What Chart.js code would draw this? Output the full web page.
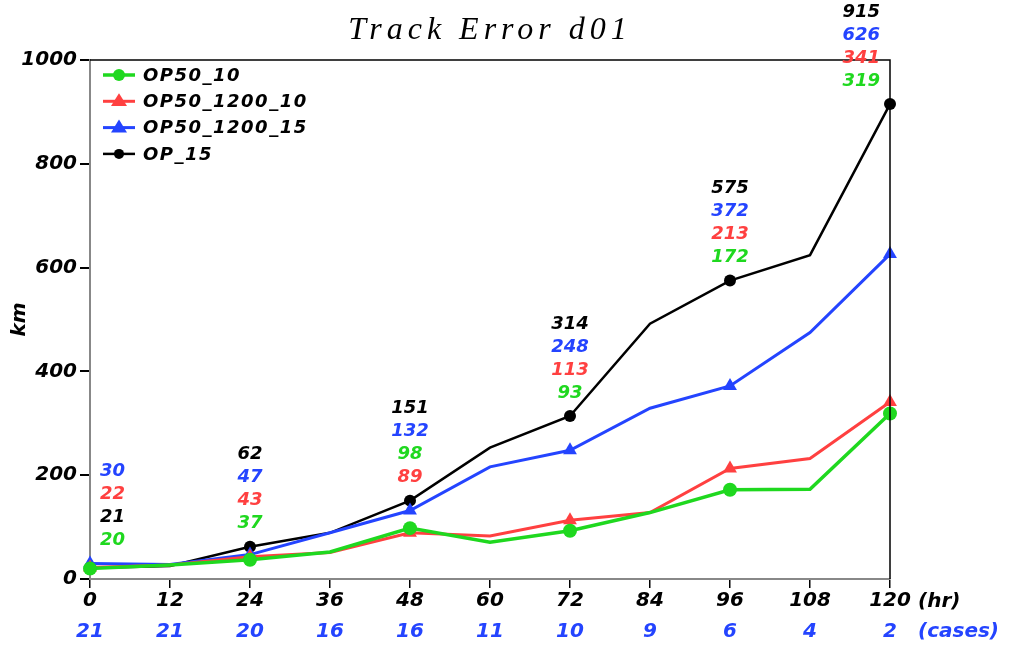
<!DOCTYPE html>
<html>
<head>
<meta charset="utf-8">
<script src="https://cdn.jsdelivr.net/npm/chart.js@4"></script>
<style>
  html, body { margin: 0; padding: 0; background: #fff; }
  #wrap { width: 1012px; height: 649px; }
</style>
</head>
<body>
<div id="wrap"><canvas id="myChart" width="1012" height="649"></canvas></div>
<script>
// du lieu doc tu hinh
var hours = [0, 12, 24, 36, 48, 60, 72, 84, 96, 108, 120];
var cases = [21, 21, 20, 16, 16, 11, 10, 9, 6, 4, 2];
var seriesNames = ['OP50_10', 'OP50_1200_10', 'OP50_1200_15', 'OP_15'];
var op50_10 = [20, 27, 37, 52, 98, 71, 93, 128, 172, 173, 319];
var op50_1200_10 = [22, 27, 43, 51, 89, 83, 113, 128, 213, 232, 341];
var op50_1200_15 = [30, 28, 47, 89, 132, 216, 248, 329, 372, 475, 626];
var op_15 = [21, 25, 62, 89, 151, 253, 314, 492, 575, 624, 915];
var yTicks = [0, 200, 400, 600, 800, 1000];

var colors = ['#1fd81f', '#ff4040', '#2444ff', '#000000'];
var markers = ['circle', 'triangle', 'triangle', 'circle'];
var markerSize = [7, 8, 8, 6];
var lineW = [3.5, 3, 3, 2.5];
var FONT = '"DejaVu Sans"';

document.addEventListener("DOMContentLoaded", function () {
  var values = [op50_10, op50_1200_10, op50_1200_15, op_15];
  var datasets = values.map(function (arr, i) {
    return {
      label: seriesNames[i],
      data: arr.map(function (v, j) { return { x: hours[j], y: v }; }),
      borderColor: colors[i],
      backgroundColor: colors[i],
      borderWidth: lineW[i],
      pointStyle: markers[i],
      pointRadius: hours.map(function (h, j) { return j % 2 === 0 ? markerSize[i] : 0; }),
      pointBorderWidth: 0,
      tension: 0,
      fill: false,
      clip: false
    };
  });
  renderDoThi(datasets);
});

var frameAndText = {
  id: 'frameAndText',
  afterDraw: function (chart) {
    var ctx = chart.ctx;
    var a = chart.chartArea;
    var xs = chart.scales.x, ys = chart.scales.y;
    ctx.save();
    // khung tren + phai
    ctx.strokeStyle = '#000';
    ctx.lineWidth = 1.5;
    ctx.beginPath();
    ctx.moveTo(a.left, a.top);
    ctx.lineTo(a.right, a.top);
    ctx.lineTo(a.right, a.bottom);
    ctx.stroke();

    // tieu de
    ctx.fillStyle = '#000';
    ctx.font = 'italic 32px "Liberation Serif"';
    ctx.letterSpacing = '5px';
    ctx.textAlign = 'center';
    ctx.textBaseline = 'middle';
    ctx.fillText('Track Error d01', (a.left + a.right) / 2, a.top - 29);
    ctx.letterSpacing = '0px';

    // km
    ctx.save();
    ctx.translate(a.left - 70, (a.top + a.bottom) / 2);
    ctx.rotate(-Math.PI / 2);
    ctx.font = 'bold oblique 20px ' + FONT;
    ctx.fillText('km', 0, 0);
    ctx.restore();

    // so truong hop
    ctx.font = 'bold oblique 20px ' + FONT;
    ctx.fillStyle = '#2444ff';
    hours.forEach(function (h, j) {
      ctx.fillText(String(cases[j]), xs.getPixelForValue(h), a.bottom + 53);
    });
    ctx.textAlign = 'left';
    ctx.fillText('(cases)', a.right + 28, a.bottom + 53);
    ctx.fillStyle = '#000';
    ctx.fillText('(hr)', a.right + 28, a.bottom + 23);

    // nhan gia tri
    ctx.font = 'bold oblique 18px ' + FONT;
    hours.forEach(function (h, j) {
      if (j % 2 !== 0) return;
      var items = chart.data.datasets.map(function (d) {
        return { v: d.data[j].y, c: d.borderColor };
      });
      items.sort(function (p, q) { return q.v - p.v; });
      var base = ys.getPixelForValue(items[0].v) - 23;
      var x = xs.getPixelForValue(h);
      if (j === 0) { ctx.textAlign = 'left'; x += 10; }
      else if (j === hours.length - 1) { ctx.textAlign = 'right'; x -= 10; }
      else { ctx.textAlign = 'center'; }
      items.forEach(function (it, k) {
        ctx.fillStyle = it.c;
        ctx.fillText(String(it.v), x, base - (items.length - 1 - k) * 23);
      });
    });

    // chu thich
    ctx.font = 'bold oblique 18px ' + FONT;
    ctx.letterSpacing = '1.5px';
    ctx.textAlign = 'left';
    chart.data.datasets.forEach(function (d, i) {
      var y = a.top + 15 + i * 26.3;
      var x0 = a.left + 13;
      ctx.strokeStyle = d.borderColor;
      ctx.lineWidth = d.borderWidth;
      ctx.beginPath();
      ctx.moveTo(x0, y);
      ctx.lineTo(x0 + 32, y);
      ctx.stroke();
      ctx.fillStyle = d.borderColor;
      ctx.beginPath();
      if (markers[i] === 'circle') {
        ctx.arc(x0 + 16, y, markerSize[i] - 1, 0, Math.PI * 2);
      } else {
        var r = markerSize[i];
        ctx.moveTo(x0 + 16, y - r);
        ctx.lineTo(x0 + 16 + r, y + r * 0.6);
        ctx.lineTo(x0 + 16 - r, y + r * 0.6);
        ctx.closePath();
      }
      ctx.fill();
      ctx.fillStyle = '#000';
      ctx.fillText(d.label, x0 + 40, y + 1);
    });
    ctx.restore();
  }
};

function renderDoThi(datasets) {
  var ctx = document.getElementById('myChart').getContext('2d');
  var myChart = new Chart(ctx, {
    type: 'line',
    data: { datasets: datasets },
    options: {
      responsive: false,
      animation: false,
      layout: { padding: { top: 60, right: 122, left: 0, bottom: 0 } },
      plugins: {
        legend: { display: false },
        tooltip: { enabled: false },
        title: { display: false }
      },
      scales: {
        x: {
          type: 'linear',
          min: 0,
          max: 120,
          afterBuildTicks: function (s) { s.ticks = hours.map(function (h) { return { value: h }; }); },
          afterFit: function (s) { s.height = 70; },
          ticks: {
            color: '#000',
            font: { family: 'DejaVu Sans', size: 20, weight: 'bold', style: 'oblique' },
            padding: 1,
            maxRotation: 0,
            callback: function (v) { return String(v); }
          },
          grid: { drawOnChartArea: false, tickLength: 9, color: '#000', lineWidth: 1.5 },
          border: { color: '#888', width: 2 }
        },
        y: {
          min: 0,
          max: 1000,
          afterBuildTicks: function (s) { s.ticks = yTicks.map(function (v) { return { value: v }; }); },
          afterFit: function (s) { s.width = 90; },
          ticks: {
            color: '#000',
            font: { family: 'DejaVu Sans', size: 20, weight: 'bold', style: 'oblique' },
            padding: 3,
            callback: function (v) { return String(v); }
          },
          grid: { drawOnChartArea: false, tickLength: 10, color: '#000', lineWidth: 2 },
          border: { color: '#888', width: 2 }
        }
      }
    },
    plugins: [frameAndText]
  });
}
</script>
</body>
</html>
